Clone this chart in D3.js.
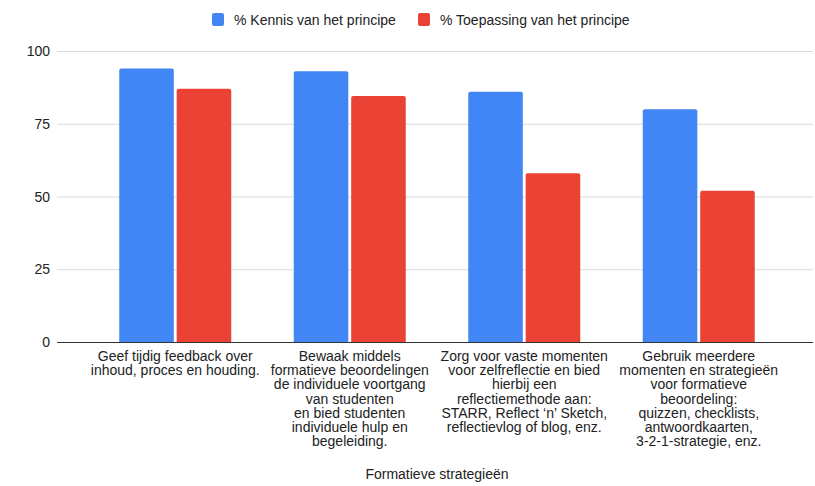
<!DOCTYPE html>
<html>
<head>
<meta charset="utf-8">
<script src="https://cdn.jsdelivr.net/npm/d3@7"></script>
<style>
  body { margin: 0; background: #fff; }
  text { font-family: "Liberation Sans", Arial, sans-serif; }
</style>
</head>
<body>
<div id="chart"></div>
<script>
var width = 815;
var height = 486;

// data
var categories = [
  ["Geef tijdig feedback over", "inhoud, proces en houding."],
  ["Bewaak middels", "formatieve beoordelingen", "de individuele voortgang", "van studenten", "en bied studenten", "individuele hulp en", "begeleiding."],
  ["Zorg voor vaste momenten", "voor zelfreflectie en bied", "hierbij een", "reflectiemethode aan:", "STARR, Reflect \u2018n\u2019 Sketch,", "reflectievlog of blog, enz."],
  ["Gebruik meerdere", "momenten en strategie\u00ebn", "voor formatieve", "beoordeling:", "quizzen, checklists,", "antwoordkaarten,", "3-2-1-strategie, enz."]
];
var seriesNames = ["% Kennis van het principe", "% Toepassing van het principe"];
var kennis = [94, 93, 86, 80];
var toepassing = [87, 84.5, 58, 52];
var yTicks = [0, 25, 50, 75, 100];
var axisTitle = "Formatieve strategie\u00ebn";
var colors = ["#4285F4", "#EA4335"];

var rows = categories.map((c, i) => ({ idx: i, lines: c, values: [kennis[i], toepassing[i]] }));

var svg = d3.select('#chart').append('svg')
  .attr('width', width)
  .attr('height', height);

var mLeft = 57, mRight = 813, mTop = 51, mBottom = 342;

var x0 = d3.scaleBand()
  .domain(rows.map(d => d.idx))
  .range([88, 786]);

var x1 = d3.scaleBand()
  .domain([0, 1])
  .range([x0.bandwidth() / 2 - 56, x0.bandwidth() / 2 + 56])
  .paddingInner(0.05);

var y = d3.scaleLinear()
  .domain([0, 100])
  .range([mBottom, mTop]);

// gridlines
svg.append('g')
  .selectAll('line')
  .data(yTicks.filter(t => t > 0))
  .join('line')
    .attr('x1', mLeft)
    .attr('x2', mRight)
    .attr('y1', d => y(d) + 0.5)
    .attr('y2', d => y(d) + 0.5)
    .attr('stroke', '#d9d9d9')
    .attr('stroke-width', 1);

// y labels
svg.append('g')
  .selectAll('text')
  .data(yTicks)
  .join('text')
    .attr('x', 50)
    .attr('y', d => y(d) + 5)
    .attr('text-anchor', 'end')
    .attr('font-size', 14)
    .attr('fill', '#222')
    .text(d => d);

// bars
var group = svg.append('g')
  .selectAll('g')
  .data(rows)
  .join('g')
    .attr('transform', d => `translate(${x0(d.idx)},0)`);

group.selectAll('path')
  .data(d => d.values.map((v, k) => ({ k: k, v: v })))
  .join('path')
    .attr('fill', d => colors[d.k])
    .attr('d', d => {
      var bx = x1(d.k), bw = x1.bandwidth(), by = y(d.v), r = 2;
      return `M${bx},${mBottom}V${by + r}Q${bx},${by} ${bx + r},${by}H${bx + bw - r}Q${bx + bw},${by} ${bx + bw},${by + r}V${mBottom}Z`;
    });

// baseline
svg.append('line')
  .attr('x1', mLeft)
  .attr('x2', mRight)
  .attr('y1', mBottom + 0.5)
  .attr('y2', mBottom + 0.5)
  .attr('stroke', '#333')
  .attr('stroke-width', 1);

// x labels
var xl = svg.append('g')
  .selectAll('text')
  .data(rows)
  .join('text')
    .attr('text-anchor', 'middle')
    .attr('font-size', 14)
    .attr('fill', '#222')
    .attr('x', d => x0(d.idx) + x0.bandwidth() / 2)
    .attr('y', 361);

xl.selectAll('tspan')
  .data(d => d.lines.map(l => ({ l: l, x: x0(d.idx) + x0.bandwidth() / 2 })))
  .join('tspan')
    .attr('x', d => d.x)
    .attr('dy', (d, i) => i === 0 ? 0 : 14.2)
    .text(d => d.l);

// axis title
svg.append('text')
  .attr('x', (x0.range()[0] + x0.range()[1]) / 2)
  .attr('y', 479)
  .attr('text-anchor', 'middle')
  .attr('font-size', 14)
  .attr('fill', '#222')
  .text(axisTitle);

// legend
var legendX = [212, 418];
var legend = svg.append('g')
  .selectAll('g')
  .data(seriesNames)
  .join('g')
    .attr('transform', (d, i) => `translate(${legendX[i]},13)`);

legend.append('rect')
  .attr('width', 12)
  .attr('height', 13)
  .attr('rx', 2)
  .attr('fill', (d, i) => colors[i]);

legend.append('text')
  .attr('x', 22)
  .attr('y', 12)
  .attr('font-size', 14)
  .attr('fill', '#222')
  .text(d => d);
</script>
</body>
</html>
